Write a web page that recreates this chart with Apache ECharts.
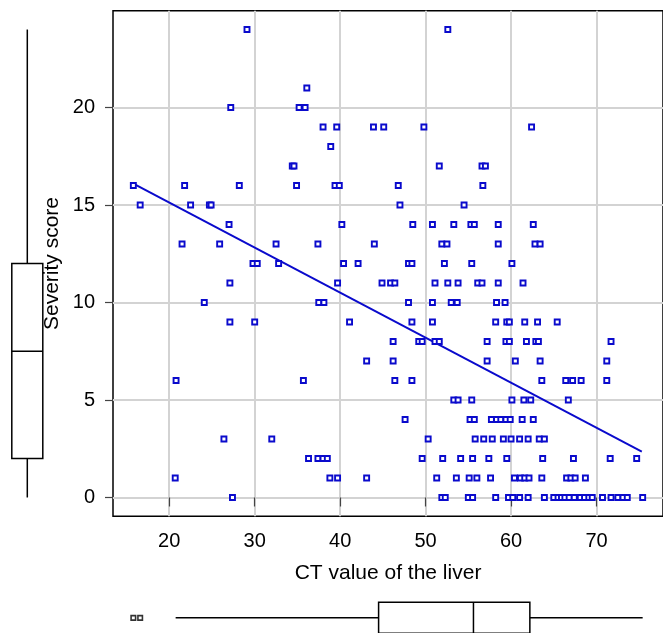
<!DOCTYPE html>
<html>
<head>
<meta charset="UTF-8">
<title>CT value of the liver vs severity score</title>
<script type="text/javascript" src="https://cdn.jsdelivr.net/npm/echarts@6.0.0/dist/echarts.min.js"></script>
</head>
<body style="margin:0;background:#fff;">
<div id="main" style="width:663px;height:633px;"></div>

<script type="text/javascript">
// scatter points: [CT value of the liver, severity score]
var points = [
  [29.1,24],[52.6,24],
  [36.1,21],
  [27.2,20],[35.2,20],[35.9,20],
  [38.0,19],[39.6,19],[43.9,19],[45.1,19],[49.8,19],[62.4,19],
  [38.9,18],
  [34.4,17],[34.6,17],[51.6,17],[56.6,17],[57.0,17],
  [15.8,16],[21.8,16],[28.2,16],[34.9,16],[39.4,16],[39.9,16],[46.8,16],[56.7,16],
  [16.6,15],[22.5,15],[24.7,15],[24.9,15],[47.0,15],[54.5,15],
  [27.0,14],[40.2,14],[48.5,14],[50.8,14],[53.3,14],[55.3,14],[55.7,14],[58.5,14],[62.6,14],
  [21.5,13],[25.9,13],[32.5,13],[37.4,13],[44.0,13],[51.9,13],[52.5,13],[58.5,13],[62.8,13],[63.4,13],
  [29.8,12],[30.3,12],[32.8,12],[40.4,12],[42.1,12],[48.0,12],[48.4,12],[52.2,12],[55.4,12],[60.1,12],
  [27.1,11],[39.7,11],[44.9,11],[45.9,11],[46.4,11],[51.1,11],[52.6,11],[53.8,11],[56.1,11],[56.6,11],[58.5,11],[61.4,11],
  [24.1,10],[37.5,10],[38.1,10],[48.0,10],[50.8,10],[53.0,10],[53.7,10],[58.3,10],[59.3,10],
  [27.1,9],[30.0,9],[41.1,9],[48.4,9],[50.8,9],[58.2,9],[59.5,9],[59.8,9],[61.6,9],[63.1,9],[65.4,9],
  [46.2,8],[49.2,8],[49.6,8],[51.1,8],[51.6,8],[57.2,8],[59.4,8],[59.8,8],[61.8,8],[62.9,8],[63.2,8],[71.7,8],
  [43.1,7],[46.2,7],[57.2,7],[60.5,7],[63.4,7],[71.2,7],
  [20.8,6],[35.7,6],[46.4,6],[48.4,6],[63.6,6],[66.4,6],[67.2,6],[68.2,6],[71.2,6],
  [53.3,5],[53.8,5],[55.4,5],[60.1,5],[61.5,5],[62.3,5],[66.7,5],
  [47.6,4],[55.2,4],[55.7,4],[57.7,4],[58.3,4],[58.8,4],[59.4,4],[59.9,4],[61.3,4],[62.6,4],
  [26.4,3],[32.0,3],[50.3,3],[55.8,3],[56.8,3],[57.8,3],[59.1,3],[60.0,3],[61.0,3],[62.0,3],[63.3,3],[63.9,3],
  [36.3,2],[37.4,2],[38.0,2],[38.5,2],[49.6,2],[52.0,2],[54.1,2],[55.5,2],[57.4,2],[59.5,2],[63.7,2],[67.3,2],[71.6,2],[74.7,2],
  [20.7,1],[38.8,1],[39.7,1],[43.1,1],[51.3,1],[53.6,1],[55.1,1],[56.0,1],[57.6,1],[60.4,1],[61.1,1],[61.6,1],[62.1,1],[63.6,1],[66.5,1],[67.0,1],[67.5,1],[68.7,1],
  [27.4,0],[51.9,0],[52.3,0],[55.0,0],[55.5,0],[58.2,0],[59.7,0],[60.2,0],[61.0,0],[62.0,0],[63.9,0],[65.0,0],[65.5,0],[65.9,0],[66.3,0],[66.8,0],[67.4,0],[68.1,0],[68.6,0],[69.1,0],[69.5,0],[70.7,0],[71.7,0],[72.5,0],[73.1,0],[73.6,0],[75.4,0]
];

// fitted regression line at its two ends
var fitLine = [[15.8, 16.1], [75.3, 2.35]];

// boxplot stats: [low whisker, Q1, median, Q3, high whisker]
var scoreBox = [0, 2, 7.5, 12, 24];
var ctBox = [20.75, 44.5, 55.6, 62.2, 75.4];
var ctOutliers = [15.8, 16.6];

var xTicks = [20, 30, 40, 50, 60, 70];
var yTicks = [0, 5, 10, 15, 20];

var FONT = '"Liberation Sans", Arial, sans-serif';
var BLUE = '#0a0acc';

var mychart = echarts.init(document.getElementById('main'), null, {renderer: 'canvas'});

// box drawn with plain lines (no whisker caps)
function makeBoxRender(horizontal) {
  return function (params, api) {
    var v = [api.value(0), api.value(1), api.value(2), api.value(3), api.value(4)];
    var half = 15.5;
    function pt(val, off) {
      var c = horizontal ? api.coord([val, 0.5]) : api.coord([0.5, val]);
      return horizontal ? [c[0], c[1] + off] : [c[0] + off, c[1]];
    }
    var st = {stroke: '#000', lineWidth: 1.5, fill: null};
    function seg(a, b) {
      return {type: 'line', shape: {x1: a[0], y1: a[1], x2: b[0], y2: b[1]}, style: st};
    }
    var a = pt(v[1], -half), b = pt(v[3], half);
    return {
      type: 'group',
      children: [
        seg(pt(v[0], 0), pt(v[1], 0)),
        seg(pt(v[3], 0), pt(v[4], 0)),
        {type: 'rect', shape: {x: Math.min(a[0], b[0]), y: Math.min(a[1], b[1]),
          width: Math.abs(b[0] - a[0]), height: Math.abs(b[1] - a[1])},
          style: {stroke: '#000', lineWidth: 1.5, fill: '#fff'}},
        seg(pt(v[2], -half), pt(v[2], half))
      ]
    };
  };
}

var option = {
  animation: false,
  backgroundColor: '#fff',
  textStyle: {fontFamily: FONT},
  grid: [
    {left: 113, top: 10.8, width: 556, height: 505.4, show: true,
     borderColor: '#000', borderWidth: 1.5, backgroundColor: 'transparent'},
    {left: 0, top: 10.8, width: 54.6, height: 505.4},
    {left: 113, top: 602.7, width: 556, height: 31.2}
  ],
  xAxis: [
    {gridIndex: 0, type: 'value', min: 13.42, max: 77.78,
     name: 'CT value of the liver', nameLocation: 'middle', nameGap: 47,
     nameMoveOverlap: false,
     nameTextStyle: {fontSize: 21, color: '#000', fontFamily: FONT},
     axisLine: {show: false},
     axisTick: {show: true, length: 9, customValues: xTicks, lineStyle: {color: '#444', width: 1.2}},
     axisLabel: {customValues: xTicks, margin: 15, fontSize: 20, color: '#000', fontFamily: FONT},
     splitLine: {show: true, lineStyle: {color: '#d3d3d3', width: 2}}},
    {gridIndex: 1, type: 'value', min: 0, max: 1, show: false},
    {gridIndex: 2, type: 'value', min: 13.42, max: 77.78, show: false}
  ],
  yAxis: [
    {gridIndex: 0, type: 'value', min: -0.96, max: 24.96,
     name: 'Severity score', nameLocation: 'middle', nameGap: 50,
     nameMoveOverlap: false,
     nameTextStyle: {fontSize: 21, color: '#000', fontFamily: FONT},
     axisLine: {show: false},
     axisTick: {show: true, length: 8, customValues: yTicks, lineStyle: {color: '#444', width: 1.2}},
     axisLabel: {customValues: yTicks, margin: 18, fontSize: 20, color: '#000', fontFamily: FONT},
     splitLine: {show: true, lineStyle: {color: '#d3d3d3', width: 2}}},
    {gridIndex: 1, type: 'value', min: -0.96, max: 24.96, show: false},
    {gridIndex: 2, type: 'value', min: 0, max: 1, show: false}
  ],
  series: [
    {
      type: 'line', xAxisIndex: 0, yAxisIndex: 0,
      data: fitLine, symbol: 'none', z: 2,
      lineStyle: {color: BLUE, width: 2}
    },
    {
      type: 'scatter', xAxisIndex: 0, yAxisIndex: 0,
      data: points, symbol: 'rect', symbolSize: 5, z: 3,
      itemStyle: {color: '#fff', borderColor: BLUE, borderWidth: 1.9, opacity: 1}
    },
    {
      type: 'custom', xAxisIndex: 1, yAxisIndex: 1,
      data: [scoreBox], renderItem: makeBoxRender(false)
    },
    {
      type: 'custom', xAxisIndex: 2, yAxisIndex: 2,
      data: [ctBox], renderItem: makeBoxRender(true)
    },
    {
      type: 'scatter', xAxisIndex: 2, yAxisIndex: 2,
      data: ctOutliers.map(function (x) { return [x, 0.5]; }),
      symbol: 'rect', symbolSize: 4.5,
      itemStyle: {color: '#fff', borderColor: '#000', borderWidth: 1.6}
    }
  ]
};

mychart.setOption(option);
</script>
</body>
</html>
